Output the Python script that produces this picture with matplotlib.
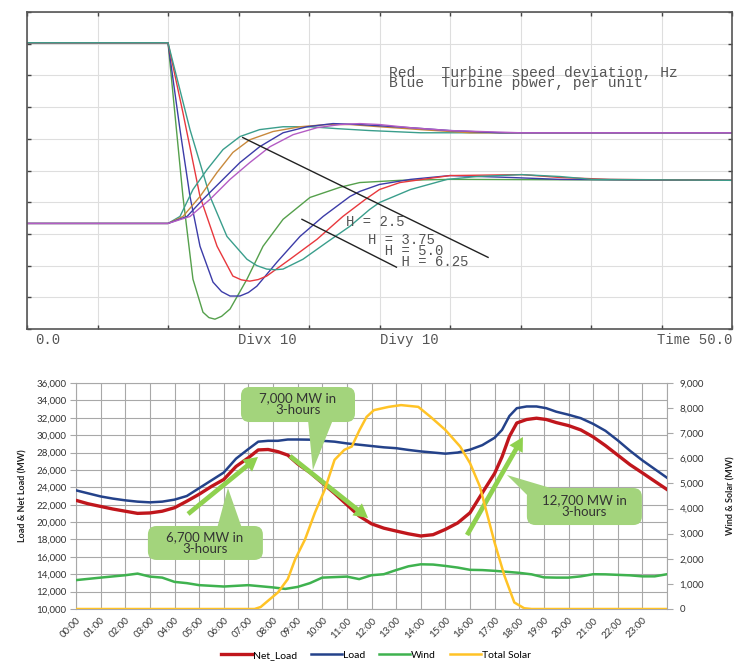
import matplotlib
matplotlib.use('Agg')
import matplotlib.pyplot as plt
from matplotlib.patches import FancyBboxPatch, Polygon
import matplotlib.ticker as mt

# ---------------- top panel data (time s, value in divisions) ----------------
spd25_t = [0, 10, 11.06, 11.77, 12.48, 12.9, 13.33, 13.8, 14.4, 15.6, 16.74, 18.16, 20.07, 22.2, 23.6, 26.45, 30, 50]
spd25_v = [9.03, 9.03, 4.18, 1.57, 0.53, 0.36, 0.31, 0.40, 0.63, 1.57, 2.61, 3.46, 4.15, 4.47, 4.62, 4.69, 4.72, 4.69]
spd375_t = [0, 10, 10.85, 11.56, 12.27, 13.19, 13.8, 14.4, 15.1, 15.7, 16.3, 17.73, 19.36, 21.0, 22.9, 23.6, 25.0, 27.2, 30, 34.3, 37.8, 50]
spd375_v = [9.03, 9.03, 6.29, 4.18, 2.61, 1.48, 1.18, 1.04, 1.04, 1.15, 1.35, 2.11, 2.92, 3.55, 4.18, 4.34, 4.56, 4.72, 4.84, 4.78, 4.72, 4.69]
spd50_t = [0, 10, 11.06, 12.27, 13.48, 14.6, 15.2, 15.8, 16.4, 17.0, 18.65, 20.57, 22.4, 24.0, 25.0, 26.45, 30, 35.1, 37.8, 41.3, 50]
spd50_v = [9.03, 9.03, 6.82, 4.18, 2.61, 1.67, 1.55, 1.51, 1.56, 1.67, 2.20, 2.83, 3.55, 4.09, 4.40, 4.62, 4.84, 4.87, 4.78, 4.72, 4.69]
spd625_t = [0, 10, 11.56, 12.98, 14.18, 15.6, 16.3, 17.0, 17.6, 18.16, 19.57, 21.28, 22.9, 24.3, 25.0, 27.2, 29.8, 31.9, 35.1, 37.8, 40.1, 50]
spd625_v = [9.03, 9.03, 6.29, 4.18, 2.92, 2.20, 2.00, 1.89, 1.87, 1.89, 2.20, 2.74, 3.24, 3.77, 3.99, 4.40, 4.72, 4.81, 4.87, 4.81, 4.72, 4.69]

pwr25_t = [0, 10, 10.85, 11.77, 12.77, 13.9, 15.1, 16.5, 18.16, 20.07, 22.0, 24.3, 27.9, 50]
pwr25_v = [3.33, 3.33, 3.55, 4.40, 5.03, 5.66, 6.07, 6.29, 6.38, 6.38, 6.32, 6.26, 6.19, 6.19]
pwr375_t = [0, 10, 11.06, 12.27, 13.48, 14.6, 15.8, 17.45, 19.36, 21.28, 22.9, 25.0, 27.9, 31.4, 50]
pwr375_v = [3.33, 3.33, 3.55, 4.18, 4.94, 5.57, 5.97, 6.23, 6.38, 6.45, 6.45, 6.38, 6.29, 6.19, 6.19]
pwr50_t = [0, 10, 11.35, 12.48, 13.9, 15.1, 16.5, 18.16, 19.86, 21.7, 23.6, 27.2, 30, 33.5, 50]
pwr50_v = [3.33, 3.33, 3.55, 4.09, 4.72, 5.25, 5.75, 6.19, 6.38, 6.48, 6.45, 6.35, 6.26, 6.19, 6.19]
pwr625_t = [0, 10, 11.56, 12.98, 14.4, 15.8, 17.23, 18.87, 20.57, 22.2, 23.6, 25.0, 27.2, 30, 35, 50]
pwr625_v = [3.33, 3.33, 3.55, 4.09, 4.72, 5.25, 5.75, 6.13, 6.35, 6.45, 6.48, 6.45, 6.35, 6.26, 6.19, 6.19]

h_labels = ['H = 2.5', 'H = 3.75', 'H = 5.0', 'H = 6.25']
legend_lines = ['Red   Turbine speed deviation, Hz', 'Blue  Turbine power, per unit']

# ---------------- bottom panel data ----------------
load_h = [0, 0.5, 1, 1.5, 2, 2.5, 3, 3.5, 4, 4.5, 5, 5.5, 6, 6.5, 7, 7.4, 7.8, 8.2, 8.6, 9, 9.5, 10,
          10.5, 11, 11.5, 12, 12.5, 13, 13.5, 14, 14.5, 15, 15.5, 16, 16.5, 17, 17.3, 17.6, 17.9, 18.3,
          18.7, 19.1, 19.5, 20, 20.5, 21, 21.5, 22, 22.5, 23, 23.5, 24]
load_mw = [23650, 23300, 22950, 22700, 22500, 22350, 22270, 22350, 22580, 23000, 23900, 24800, 25700,
           27300, 28400, 29250, 29350, 29350, 29500, 29500, 29480, 29350, 29250, 29050, 28900, 28750,
           28600, 28500, 28300, 28130, 28000, 27870, 28000, 28330, 28850, 29700, 30600, 32200, 33100,
           33300, 33300, 33100, 32700, 32350, 31950, 31300, 30500, 29400, 28200, 27100, 26100, 25100]
net_mw = [22500, 22100, 21800, 21500, 21250, 21000, 21050, 21250, 21650, 22400, 23200, 24100, 24900,
          26400, 27400, 28300, 28350, 28100, 27700, 26700, 25700, 24500, 23300, 22000, 20700, 19800,
          19300, 18970, 18650, 18400, 18550, 19160, 19900, 21070, 23360, 25600, 27500, 29850, 31400,
          31800, 31950, 31800, 31450, 31100, 30600, 29800, 28800, 27700, 26600, 25660, 24700, 23750]
wind_h = [0, 1, 2, 2.5, 3, 3.5, 4, 4.5, 5, 6, 7, 8, 8.5, 9, 9.5, 10, 11, 11.5, 12, 12.5, 13, 13.5,
          14, 14.5, 15, 15.5, 16, 16.5, 17, 17.5, 18, 18.5, 19, 19.5, 20, 20.5, 21, 21.5, 22, 22.5,
          23, 23.5, 24]
wind_mw = [1150, 1250, 1345, 1410, 1290, 1250, 1080, 1030, 950, 895, 950, 860, 800, 880, 1030, 1250,
           1290, 1190, 1345, 1385, 1550, 1700, 1780, 1770, 1715, 1650, 1560, 1550, 1520, 1480, 1440,
           1380, 1260, 1250, 1250, 1300, 1385, 1380, 1360, 1340, 1300, 1300, 1385]
solar_h = [0, 7.25, 7.5, 7.8, 8.2, 8.6, 8.9, 9.3, 9.7, 10.1, 10.5, 10.9, 11.2, 11.5, 11.8, 12.1, 12.7,
           13.2, 13.9, 14.4, 15.0, 15.6, 16.0, 16.4, 17.0, 17.4, 17.8, 18.2, 18.5, 24]
solar_mw = [0, 0, 80, 330, 660, 1190, 1980, 2770, 3830, 4750, 5940, 6340, 6470, 7100, 7650, 7920, 8050,
            8120, 8050, 7650, 7130, 6470, 5810, 4880, 2640, 1320, 260, 30, 0, 0]
hour_labels = ['%02d:00' % h for h in range(24)]
series_names = ['Net_Load', 'Load', 'Wind', 'Total Solar']

# ---------------- figure ----------------
W, H = 734, 662
fig = plt.figure(figsize=(W / 100, H / 100), dpi=100)
fig.patch.set_facecolor('white')

# ===== top panel =====
ax = fig.add_axes([27 / W, 1 - 329 / H, 705 / W, 317 / H])
ax.set_xlim(0, 50)
ax.set_ylim(0, 10)
ax.set_xticks(range(0, 51, 5))
ax.set_yticks(range(0, 11))
ax.grid(True, color='#dedede', lw=0.8)
ax.set_axisbelow(True)
ax.tick_params(direction='in', top=True, right=True, length=3, width=1, color='#444',
               labelbottom=False, labelleft=False)
for s in ax.spines.values():
    s.set_color('#555555')
    s.set_linewidth(1.2)

c_green, c_blue, c_red, c_teal = '#55a04c', '#3c3ca8', '#e8383d', '#3a9e8c'
c_orange, c_mag = '#c8893c', '#b45cc4'
lw = 1.0
ax.plot(spd25_t, spd25_v, color=c_green, lw=lw)
ax.plot(spd375_t, spd375_v, color=c_blue, lw=lw)
ax.plot(spd50_t, spd50_v, color=c_red, lw=lw)
ax.plot(spd625_t, spd625_v, color=c_teal, lw=lw)
ax.plot(pwr25_t, pwr25_v, color=c_teal, lw=lw)
ax.plot(pwr375_t, pwr375_v, color=c_orange, lw=lw)
ax.plot(pwr50_t, pwr50_v, color=c_blue, lw=lw)
ax.plot(pwr625_t, pwr625_v, color=c_mag, lw=lw)

ax.plot([15.3, 32.7], [6.04, 2.26], color='#222', lw=1.0)
ax.plot([19.5, 26.2], [3.46, 1.95], color='#222', lw=1.0)

mono = 'Liberation Mono'
tc = '#555555'
ax.text(22.6, 3.36, h_labels[0], family=mono, fontsize=10, color=tc, ha='left', va='center')
ax.text(24.2, 2.83, '\n'.join(['  ' * i + lab for i, lab in enumerate(h_labels[1:])]),
        family=mono, fontsize=10, color=tc, ha='left', va='top', linespacing=0.72,
        transform=ax.transData + matplotlib.transforms.ScaledTranslation(0, 6 / 100, fig.dpi_scale_trans))
ax.text(25.7, 8.31, '\n'.join(legend_lines), family=mono, fontsize=10.5, color=tc,
        ha='left', va='top', linespacing=0.72)
bt = ax.get_xaxis_transform()
ax.text(1.5, -0.035, '0.0', family=mono, fontsize=10, color=tc, ha='center', va='center', transform=bt)
ax.text(15.0, -0.035, 'Divx 10', family=mono, fontsize=10, color=tc, ha='left', va='center', transform=bt)
ax.text(25.0, -0.035, 'Divy 10', family=mono, fontsize=10, color=tc, ha='left', va='center', transform=bt)
ax.text(50.0, -0.035, 'Time 50.0', family=mono, fontsize=10, color=tc, ha='right', va='center', transform=bt)

# ===== bottom panel =====
fnt = 'Lato'
ax2 = fig.add_axes([76 / W, 1 - 609 / H, 591 / W, 226 / H])
ax2.set_xlim(0, 24)
ax2.set_ylim(10000, 36000)
ax2.set_yticks(range(10000, 36001, 2000))
ax2.yaxis.set_major_formatter(mt.FuncFormatter(lambda v, p: f'{int(v):,}'))
ax2.set_xticks(range(0, 24))
ax2.set_xticklabels(hour_labels, rotation=45, ha='right', va='top', rotation_mode='anchor',
                    fontsize=7, family=fnt, color='#333')
ax2.set_xticks(range(0, 25), minor=True)
ax2.grid(True, which='major', color='#a8a8a8', lw=0.8)
ax2.grid(True, which='minor', axis='x', color='#a8a8a8', lw=0.8)
ax2.tick_params(axis='y', length=4, color='#a8a8a8', labelsize=7, labelcolor='#333', pad=3)
ax2.tick_params(axis='x', which='both', length=0, pad=5)
for lab in ax2.get_yticklabels():
    lab.set_family(fnt)
for s in ax2.spines.values():
    s.set_color('#a8a8a8')
    s.set_linewidth(0.8)
ax2.set_ylabel('Load & Net Load (MW)', fontsize=6.5, family=fnt, fontweight='bold', color='#222',
               labelpad=6)

axr = ax2.twinx()
axr.set_ylim(0, 9000)
axr.set_yticks(range(0, 9001, 1000))
axr.yaxis.set_major_formatter(mt.FuncFormatter(lambda v, p: f'{int(v):,}'))
axr.tick_params(axis='y', length=4, color='#a8a8a8', labelsize=7, labelcolor='#333', pad=5)
for lab in axr.get_yticklabels():
    lab.set_family(fnt)
for s in axr.spines.values():
    s.set_visible(False)
axr.set_ylabel('Wind & Solar (MW)', fontsize=6.5, family=fnt, fontweight='bold', color='#222',
               rotation=90, labelpad=16)

c_net, c_load, c_wind, c_sol = '#c0161c', '#24428a', '#3fb24f', '#ffc326'
l1, = ax2.plot(load_h, net_mw, color=c_net, lw=2.4, zorder=3)
l2, = ax2.plot(load_h, load_mw, color=c_load, lw=1.8, zorder=3)
l3, = axr.plot(wind_h, wind_mw, color=c_wind, lw=1.8, zorder=3)
l4, = axr.plot(solar_h, solar_mw, color=c_sol, lw=1.8, zorder=3)

# callouts (data coordinates of the left axis)
box_c = '#a3d47c'
arr_c = '#8fd14f'
asp = 115.04 * 24.625


def callout(x0, x1, y0, y1, tail, text, tx, ty):
    b = FancyBboxPatch((x0, y0), x1 - x0, y1 - y0,
                       boxstyle='round,pad=0,rounding_size=0.35', mutation_aspect=asp,
                       fc=box_c, ec='none', zorder=6)
    ax2.add_patch(b)
    ax2.add_patch(Polygon(tail, closed=True, fc=box_c, ec='none', zorder=6))
    ax2.text(tx, ty, text, ha='center', va='center', fontsize=9.5, family=fnt, color='#333',
             linespacing=1.0, zorder=7)


def arrow(x0, y0, x1, y1):
    ax2.annotate('', xy=(x1, y1), xytext=(x0, y0), zorder=5,
                 arrowprops=dict(arrowstyle='simple,head_length=1.0,head_width=1.1,tail_width=0.34',
                                 mutation_scale=10, fc=arr_c, ec='none', shrinkA=0, shrinkB=0))


callout(6.70, 11.33, 31510, 35540, [(9.42, 31800), (10.44, 31800), (9.62, 25990)],
        '7,000 MW in\n3-hours', 9.0, 33580)
callout(2.92, 7.59, 15640, 19550, [(5.73, 19300), (6.74, 19300), (6.17, 23920)],
        '6,700 MW in\n3-hours', 5.24, 17590)
callout(18.31, 22.98, 19660, 23920, [(18.40, 22885), (19.53, 23700), (17.5, 25415)],
        '12,700 MW in\n3-hours', 20.63, 21850)
arrow(4.55, 20930, 7.39, 27490)
arrow(8.69, 27600, 11.86, 20470)
arrow(15.88, 18510, 18.15, 29790)

fig.legend([l1, l2, l3, l4], series_names, loc='center', bbox_to_anchor=(376 / W, 1 - 655 / H),
           ncol=4, frameon=False, prop={'family': fnt, 'size': 7.5}, handlelength=3.0,
           handletextpad=0.1, columnspacing=1.3)

fig.savefig('out.png', dpi=100, facecolor='white')
